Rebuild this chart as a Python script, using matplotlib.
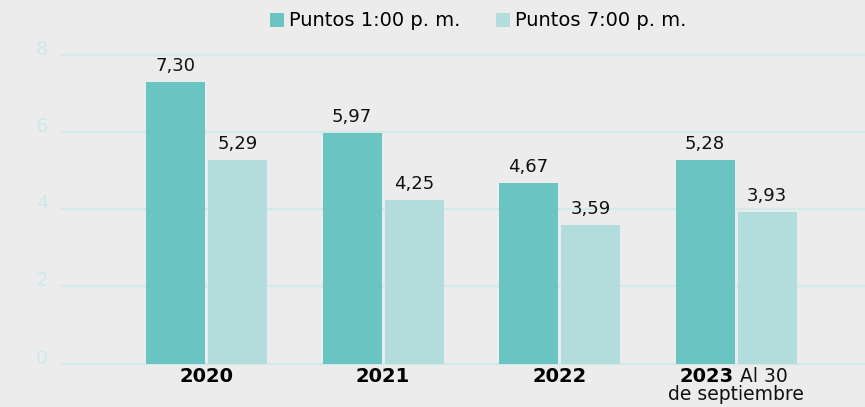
import matplotlib
matplotlib.use("Agg")
import matplotlib.pyplot as plt
import numpy as np

years = ["2020", "2021", "2022", "2023"]
year_notes = ["", "", "", " Al 30\nde septiembre"]
series_names = ["Puntos 1:00 p. m.", "Puntos 7:00 p. m."]
puntos_1pm = [7.30, 5.97, 4.67, 5.28]
puntos_7pm = [5.29, 4.25, 3.59, 3.93]
yticks = [0, 2, 4, 6, 8]

BG = "#ececec"
C1 = "#6ac4c2"
C2 = "#b2dddc"
GRID = "#d2ebea"
TICK = "#cdeaea"
FONT = "DejaVu Sans"

plt.rcParams['font.family'] = [FONT]

fig = plt.figure(figsize=(8.65, 4.07), dpi=100, facecolor=BG)
ax = fig.add_axes([62/865, (407-363.5)/407, (865-62)/865, (363.5-55)/407])
ax.set_facecolor(BG)

x = np.arange(len(years))
w = 0.334
off = 0.176
b1 = ax.bar(x - off, puntos_1pm, w, color=C1, zorder=3, label=series_names[0])
b2 = ax.bar(x + off, puntos_7pm, w, color=C2, zorder=3, label=series_names[1])

for bars, vals in ((b1, puntos_1pm), (b2, puntos_7pm)):
    for r, v in zip(bars, vals):
        ax.annotate(f"{v:.2f}".replace(".", ","), (r.get_x() + r.get_width()/2, v),
                    xytext=(0, 7), textcoords="offset pixels", ha="center", va="bottom",
                    fontsize=13, color="#111111", zorder=4)

ax.set_xlim(-0.819, 3.73)
ax.set_ylim(0, 8)
ax.set_yticks(yticks)
ax.set_yticklabels([str(t) for t in yticks], color=TICK, fontsize=14)
ax.tick_params(axis="y", length=0, pad=10)
for lbl in ax.get_yticklabels():
    lbl.set_va("baseline")
ax.set_xticks([])
for t in yticks:
    ax.axhline(t, color=GRID, lw=1.6, zorder=1, clip_on=False)
for s in ax.spines.values():
    s.set_visible(False)

tr = ax.get_xaxis_transform()
for i, (yr, note) in enumerate(zip(years, year_notes)):
    if note:
        first, second = note.split("\n")
        ax.annotate(yr, (i, 0), xycoords=tr, xytext=(-3, -4), textcoords="offset pixels",
                    ha="right", va="top", fontsize=14, fontweight="bold", color="black")
        ax.annotate(first, (i, 0), xycoords=tr, xytext=(-2, -4), textcoords="offset pixels",
                    ha="left", va="top", fontsize=13.5, color="#111111")
        ax.annotate(second, (i, 0), xycoords=tr, xytext=(0, -22), textcoords="offset pixels",
                    ha="center", va="top", fontsize=13.5, color="#111111")
    else:
        ax.annotate(yr, (i, 0), xycoords=tr, xytext=(0, -4), textcoords="offset pixels",
                    ha="center", va="top", fontsize=14, fontweight="bold", color="black")

leg = fig.legend(handles=[b1, b2], labels=series_names, loc="center",
                 bbox_to_anchor=(478/865, 1 - 21/407), ncol=2, frameon=False,
                 fontsize=14, handlelength=0.72, handleheight=0.72, handletextpad=0.26,
                 columnspacing=1.85)

fig.savefig("out.png", dpi=100, facecolor=BG)
